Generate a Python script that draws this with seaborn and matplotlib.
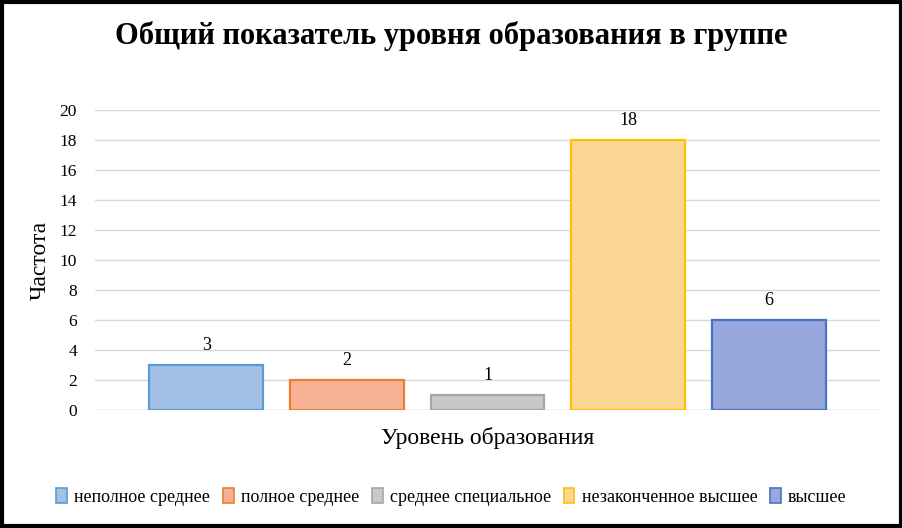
import matplotlib
matplotlib.use("Agg")
import matplotlib.pyplot as plt
import seaborn as sns
import pandas as pd
from matplotlib.patches import Patch, Rectangle

categories = ["неполное среднее", "полное среднее", "среднее специальное",
              "незаконченное высшее", "высшее"]
values = [3, 2, 1, 18, 6]
yticks = [0, 2, 4, 6, 8, 10, 12, 14, 16, 18, 20]

fills = ["#A3C1E7", "#F6B093", "#C8C8C8", "#FDD794", "#98A8DC"]
edges = ["#5B9BD5", "#ED7D31", "#A5A5A5", "#FFC000", "#4472C4"]

sns.set_theme(style="white")
plt.rcParams["font.family"] = ["Liberation Serif", "DejaVu Serif"]
plt.rcParams["text.color"] = "black"
plt.rcParams["axes.labelcolor"] = "black"
plt.rcParams["ytick.color"] = "black"

df = pd.DataFrame({"cat": categories, "val": values})

fig = plt.figure(figsize=(9.03, 5.28), dpi=100)
ax = fig.add_axes([95/903, 1 - 410/528, 785/903, 300/528])

sns.barplot(data=df, x="cat", y="val", hue="cat", palette=fills, dodge=False,
            width=0.81, legend=False, ax=ax, saturation=1)
for patch, ec in zip(ax.patches, edges):
    patch.set_edgecolor(ec)
    patch.set_linewidth(1.6)

for i, v in enumerate(values):
    ax.text(i, v + 0.75, str(v), ha="center", va="bottom", fontsize=13, color="black")

ax.set_ylim(0, 20)
ax.set_xlim(-0.79, 4.79)
ax.set_yticks(yticks)
ax.set_yticklabels([str(t) for t in yticks], fontsize=12.5)
ax.set_xticks([])
ax.yaxis.grid(True, color="#D9D9D9", linewidth=1)
ax.set_axisbelow(True)
for s in ax.spines.values():
    s.set_visible(False)
ax.tick_params(axis="y", length=0, pad=13)
ax.axhline(0, color="#D9D9D9", linewidth=1, zorder=0.5)

ax.set_ylabel("Частота", fontsize=17, labelpad=6)
ax.set_xlabel("Уровень образования", fontsize=17, labelpad=12)

fig.text(0.5, 1 - 36/528, "Общий показатель уровня образования в группе",
         ha="center", va="center", fontsize=22, fontweight="bold", color="black")

handles = [Patch(facecolor=f, edgecolor=e, linewidth=1.2) for f, e in zip(fills, edges)]
fig.legend(handles, categories, loc="center", bbox_to_anchor=(0.5, 1 - 497/528),
           ncol=5, frameon=False, fontsize=13, handlelength=0.6, handleheight=0.9,
           handletextpad=0.4, columnspacing=0.7)

fig.patches.append(Rectangle((0.002, 0.003), 0.996, 0.994, transform=fig.transFigure,
                             fill=False, edgecolor="black", linewidth=3))

fig.savefig("out.png", dpi=100)
